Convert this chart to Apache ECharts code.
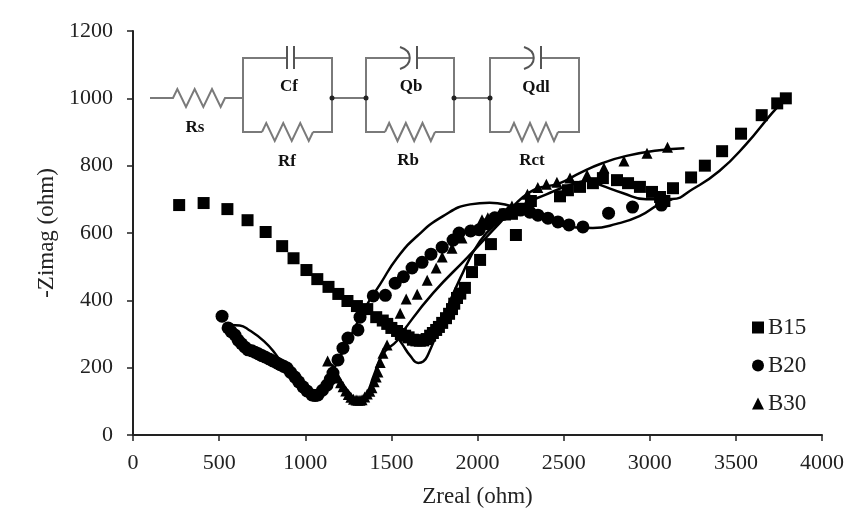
<!DOCTYPE html>
<html><head><meta charset="utf-8">
<style>html,body{margin:0;padding:0;background:#fff}#c{width:853px;height:529px}</style>
<script src="https://cdn.jsdelivr.net/npm/echarts@6/dist/echarts.min.js"></script>
</head><body><div id="c"></div>
<script>
const xTicksMax = 4000, yTicksMax = 1200;
const b15X = [268,410,548,665,770,866,932,1007,1070,1135,1192,1245,1300,1360,1412,1450,1476,1500,1533,1555,1580,1600,1625,1645,1665,1685,1705,1725,1741,1760,1776,1795,1817,1835,1852,1865,1881,1900,1927,1968,2015,2078,2223,2160,2200,2250,2310,2479,2525,2595,2670,2728,2810,2874,2943,3013,3060,3085,3135,3240,3320,3420,3530,3650,3740,3790];
const b15Y = [683,689,671,638,603,561,525,490,463,440,419,398,383,374,350,340,330,318,309,300,295,290,283,281,280,281,285,295,303,312,321,333,347,360,374,390,407,420,437,484,520,567,594,655,657,672,695,709,727,737,748,763,757,748,737,722,707,695,733,765,800,843,895,950,985,1000];
const b20X = [517,552,570,592,610,630,650,668,690,708,728,748,766,790,812,836,855,875,894,915,940,962,987,1010,1039,1057,1074,1100,1126,1145,1161,1190,1219,1248,1306,1318,1395,1465,1522,1570,1620,1678,1730,1795,1858,1893,1960,2010,2060,2100,2150,2200,2250,2304,2351,2409,2467,2531,2612,2761,2900,3068];
const b20Y = [353,318,307,297,282,271,261,253,250,246,241,236,232,226,220,214,209,204,199,186,172,158,143,131,119,117,119,133,148,165,184,223,258,288,312,350,413,415,451,470,496,513,537,558,579,600,606,610,627,645,655,665,668,662,653,644,633,624,618,659,677,683];
const b30X = [1130,1160,1190,1205,1220,1235,1250,1265,1280,1295,1306,1318,1330,1345,1360,1375,1387,1400,1412,1422,1435,1451,1475,1551,1586,1650,1708,1760,1795,1852,1910,1970,2026,2060,2130,2200,2290,2350,2400,2461,2537,2636,2734,2850,2984,3103];
const b30Y = [220,195,169,155,143,131,120,112,106,104,103,103,105,113,122,130,140,158,172,187,215,243,267,362,404,418,460,496,529,555,585,610,639,645,655,680,715,735,745,751,763,772,793,814,837,855];
const fit15X = [1480,1530,1563,1610,1656,1685,1714,1800,1900,2015,2130,2250,2400,2550,2650,2727,2842,2981,3130,3248,3404,3560,3710,3790];
const fit15Y = [330,295,270,235,214,218,240,347,466,576,636,680,715,745,755,740,719,700,701,730,784,864,956,1000];
const fit20X = [567,620,665,760,828,880,950,1000,1050,1100,1180,1270,1350,1435,1533,1650,1800,1957,2070,2200,2300,2400,2530,2670,2807,2940,3056,3130];
const fit20Y = [327,325,315,279,240,200,150,122,112,130,210,300,380,448,526,591,650,685,690,680,665,640,618,615,627,650,686,700];
const fit30X = [1117,1160,1200,1250,1310,1350,1400,1450,1533,1569,1743,1939,2130,2300,2478,2593,2727,2865,3056,3201];
const fit30Y = [214,205,165,130,103,115,180,240,280,309,422,526,630,720,748,778,808,829,846,852];

const zip = (a, b) => a.map((v, i) => [v, b[i]]);
const FONT = '"Liberation Serif","Times New Roman",serif';
const WIRE = '#7a7a7a';
const INK = '#222';

function zig(x0, x1, y, amp, n) {
  const pts = [[x0, y]];
  const step = (x1 - x0) / (2 * n);
  for (let i = 0; i < 2 * n; i++) {
    pts.push([x0 + step * (i + 0.5), y + (i % 2 ? amp : -amp)]);
  }
  pts.push([x1, y]);
  return pts;
}
const wire = (points, w) => ({ type: 'polyline', shape: { points }, style: { stroke: WIRE, lineWidth: w || 2, fill: null } });
const dot = (x, y) => ({ type: 'circle', shape: { cx: x, cy: y, r: 2.5 }, style: { fill: '#222' } });
const lab = (x, y, t) => ({ type: 'text', x, y, style: { text: t, font: 'bold 17px ' + FONT, fill: '#111', align: 'center', verticalAlign: 'middle' } });
const plate = (x) => ({ type: 'line', shape: { x1: x, y1: 46, x2: x, y2: 69 }, style: { stroke: '#555', lineWidth: 2 } });
const arc = (x) => ({ type: 'bezierCurve', shape: { x1: x - 5, y1: 47, x2: x - 5, y2: 69, cpx1: x + 8, cpy1: 51, cpx2: x + 8, cpy2: 65 }, style: { stroke: '#555', lineWidth: 2, fill: null } });

const circuit = [
  wire([[150, 98], ...zig(173, 225, 98, 9, 3), [243, 98]]),
  wire([[262, 132], [243, 132], [243, 58], [287, 58]]),
  wire([[294, 58], [332, 58], [332, 132], [313, 132]]),
  wire(zig(262, 313, 132, 9, 3)),
  plate(287), plate(294),
  wire([[332, 98], [366, 98]]),
  wire([[385, 132], [366, 132], [366, 58], [410, 58]]),
  wire([[417, 58], [454, 58], [454, 132], [435, 132]]),
  wire(zig(385, 435, 132, 9, 3)),
  arc(405), plate(417),
  wire([[454, 98], [490, 98]]),
  wire([[510, 132], [490, 132], [490, 58], [533, 58]]),
  wire([[541, 58], [579, 58], [579, 132], [558, 132]]),
  wire(zig(510, 558, 132, 9, 3)),
  arc(529), plate(541),
  dot(332, 98), dot(366, 98), dot(454, 98), dot(490, 98),
  lab(289, 87, 'Cf'), lab(411, 87, 'Qb'), lab(536, 88, 'Qdl'),
  lab(195, 128, 'Rs'), lab(287, 162, 'Rf'), lab(408, 161, 'Rb'), lab(532, 161, 'Rct')
];

const scatter = (name, x, y, symbol, size) => ({
  name, type: 'scatter', data: zip(x, y), symbol, symbolSize: size,
  itemStyle: { color: '#000', opacity: 1 }, z: 3, animation: false
});
const fit = (name, x, y) => ({
  name, type: 'line', data: zip(x, y), showSymbol: false, symbol: 'none', smooth: 0.5,
  lineStyle: { color: '#000', width: 2.5 }, z: 2, animation: false
});

const axisCommon = {
  axisLine: { show: true, onZero: false, lineStyle: { color: INK, width: 2 } },
  axisTick: { show: true, length: 6, lineStyle: { color: INK, width: 1.5 } },
  axisLabel: { color: '#222', fontFamily: FONT, fontSize: 22, formatter: v => String(v) },
  splitLine: { show: false },
  nameLocation: 'middle',
  nameTextStyle: { color: '#222', fontFamily: FONT, fontSize: 23 }
};

const chart = echarts.init(document.getElementById('c'), null, { renderer: 'canvas' });
chart.setOption({
  animation: false,
  backgroundColor: '#fff',
  grid: { left: 133, right: 31, top: 31, bottom: 94 },
  xAxis: Object.assign({}, axisCommon, { type: 'value', min: 0, max: xTicksMax, interval: 500, name: 'Zreal (ohm)', nameGap: 50,
    axisLabel: Object.assign({}, axisCommon.axisLabel, { margin: 17 }) }),
  yAxis: Object.assign({}, axisCommon, { type: 'value', min: 0, max: yTicksMax, interval: 200, name: '-Zimag (ohm)', nameGap: 71,
    axisLabel: Object.assign({}, axisCommon.axisLabel, { margin: 20 }) }),
  legend: {
    data: [
      { name: 'B15', icon: 'rect' },
      { name: 'B20', icon: 'circle' },
      { name: 'B30', icon: 'triangle' }
    ],
    orient: 'vertical', left: 747, top: 311, itemWidth: 12, itemHeight: 12, itemGap: 15,
    textStyle: { color: '#222', fontFamily: FONT, fontSize: 23, padding: [0, 0, 0, -1] },
    selectedMode: false
  },
  graphic: circuit,
  series: [
    fit('fit15', fit15X, fit15Y), fit('fit20', fit20X, fit20Y), fit('fit30', fit30X, fit30Y),
    scatter('B30', b30X, b30Y, 'triangle', 11),
    scatter('B20', b20X, b20Y, 'circle', 13),
    scatter('B15', b15X, b15Y, 'rect', 12)
  ]
});
</script></body></html>
